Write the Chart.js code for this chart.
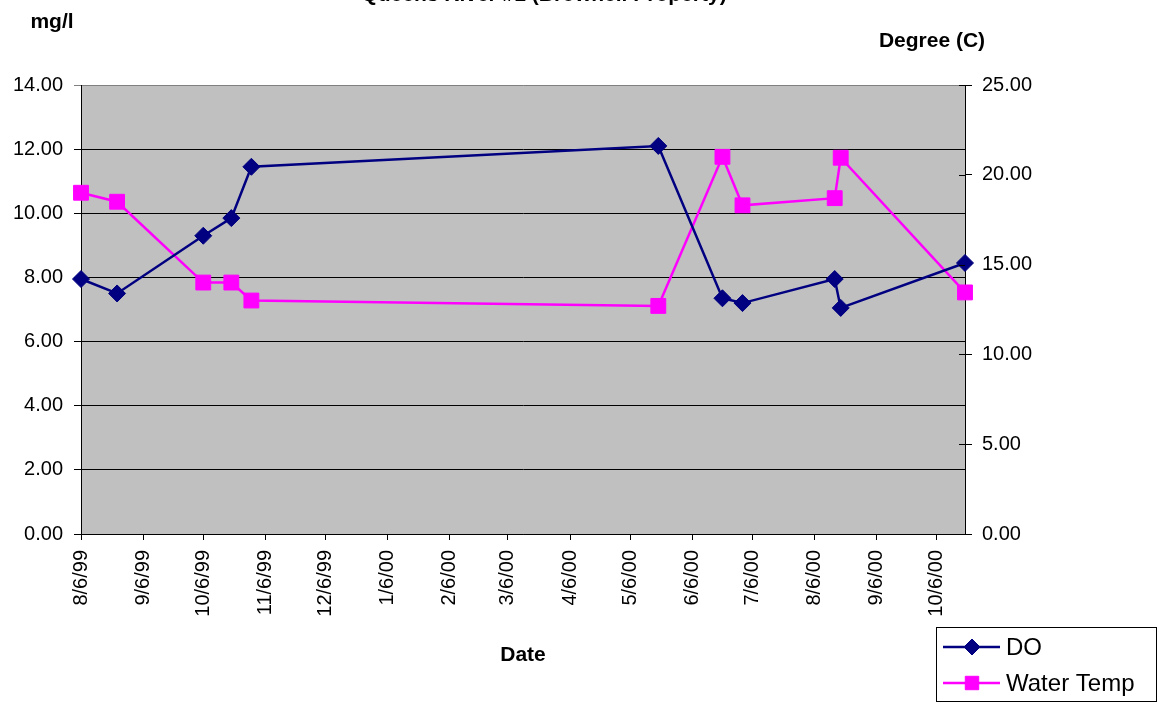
<!DOCTYPE html>
<html>
<head>
<meta charset="utf-8">
<script src="https://cdn.jsdelivr.net/npm/chart.js"></script>
<style>
  body { margin: 0; background: #fff; }
</style>
</head>
<body>
<canvas id="myChart" width="1165" height="707"></canvas>
<script>
// ******Datos: Queens River #1 (Brownell Property)******
var fechas = ['8/6/99', '8/24/99', '10/6/99', '10/20/99', '10/30/99', '5/20/00',
              '6/21/00', '7/1/00', '8/16/00', '8/19/00', '10/20/00'];
var oxigeno = [7.95, 7.50, 9.30, 9.85, 11.45, 12.10, 7.35, 7.20, 7.95, 7.05, 8.45];
var tempAgua = [19.0, 18.5, 14.0, 14.0, 13.0, 12.7, 21.0, 18.3, 18.7, 20.95, 13.45];
var etiquetasX = ['8/6/99', '9/6/99', '10/6/99', '11/6/99', '12/6/99', '1/6/00', '2/6/00',
                  '3/6/00', '4/6/00', '5/6/00', '6/6/00', '7/6/00', '8/6/00', '9/6/00', '10/6/00'];

// fecha m/d/yy -> dias
function dia(s) {
    var p = s.split('/').map(Number);
    var anio = p[2] > 50 ? 1900 + p[2] : 2000 + p[2];
    return Date.UTC(anio, p[0] - 1, p[1]) / 86400000;
}

var diasX = etiquetasX.map(dia);
var puntosDO = fechas.map(function(f, i) { return {x: dia(f), y: oxigeno[i]}; });
var puntosT = fechas.map(function(f, i) { return {x: dia(f), y: tempAgua[i]}; });

Chart.defaults.font.family = "'Liberation Sans', Arial, sans-serif";
Chart.defaults.color = '#000';

/******Fondo, títulos y leyenda******/
var extras = {
    id: 'extras',
    beforeDraw: function(chart) {
        var a = chart.chartArea, ctx = chart.ctx;
        ctx.save();
        ctx.fillStyle = '#C0C0C0';
        ctx.fillRect(a.left, a.top, a.right - a.left, a.bottom - a.top);
        ctx.restore();
    },
    afterDraw: function(chart) {
        var ctx = chart.ctx, a = chart.chartArea;
        var y1 = chart.scales.y1;
        ctx.save();
        // ticks interiores eje derecho
        ctx.strokeStyle = '#000';
        ctx.lineWidth = 1;
        for (var v = 0; v <= 25; v += 5) {
            var py = Math.round(y1.getPixelForValue(v)) + 0.5;
            ctx.beginPath();
            ctx.moveTo(a.right - 6, py);
            ctx.lineTo(a.right, py);
            ctx.stroke();
        }
        // titulos
        ctx.fillStyle = '#000';
        ctx.font = "bold 21px 'Liberation Sans', Arial, sans-serif";
        ctx.textAlign = 'center';
        ctx.textBaseline = 'alphabetic';
        ctx.fillText('Queens River #1 (Brownell Property)', 544, 1);
        ctx.textBaseline = 'middle';
        ctx.fillText('mg/l', 52, 22);
        ctx.fillText('Degree (C)', 932, 41);
        ctx.fillText('Date', 523, 655);
        // leyenda
        ctx.fillStyle = '#fff';
        ctx.fillRect(936.5, 627.5, 220, 74);
        ctx.strokeStyle = '#000';
        ctx.strokeRect(936.5, 627.5, 220, 74);
        var filas = [{ds: 0, y: 647, r: 8}, {ds: 1, y: 683, r: 9.5}];
        filas.forEach(function(f) {
            var d = chart.data.datasets[f.ds];
            ctx.strokeStyle = d.borderColor;
            ctx.fillStyle = d.backgroundColor;
            ctx.lineWidth = 2.5;
            ctx.beginPath();
            ctx.moveTo(943, f.y);
            ctx.lineTo(1000, f.y);
            ctx.stroke();
            ctx.lineWidth = 1;
            Chart.helpers.drawPoint(ctx, {pointStyle: d.pointStyle, radius: f.r, rotation: 0, borderWidth: 1}, 972, f.y);
            ctx.fillStyle = '#000';
            ctx.font = "24px 'Liberation Sans', Arial, sans-serif";
            ctx.textAlign = 'left';
            ctx.fillText(d.label, 1006, f.y + 1);
        });
        ctx.restore();
    }
};

var ctx = document.getElementById('myChart').getContext('2d');
var myChart = new Chart(ctx, {
    type: 'line',
    data: {
        datasets: [{
            label: 'DO',
            data: puntosDO,
            yAxisID: 'y',
            borderColor: '#000080',
            backgroundColor: '#000080',
            borderWidth: 2.5,
            pointStyle: 'rectRot',
            pointRadius: 8.5,
            pointBorderWidth: 1,
            tension: 0,
            clip: false
        },
        {
            label: 'Water Temp',
            data: puntosT,
            yAxisID: 'y1',
            borderColor: '#FF00FF',
            backgroundColor: '#FF00FF',
            borderWidth: 2.5,
            pointStyle: 'rect',
            pointRadius: 10.5,
            pointBorderWidth: 1,
            tension: 0,
            clip: false
        }]
    },
    options: {
        responsive: false,
        animation: false,
        layout: { padding: { top: 85, left: 0, right: 0, bottom: 0 } },
        plugins: {
            legend: { display: false },
            tooltip: { enabled: false }
        },
        scales: {
            x: {
                type: 'linear',
                min: dia(fechas[0]),
                max: dia(fechas[fechas.length - 1]),
                afterBuildTicks: function(s) {
                    s.ticks = diasX.map(function(v) { return {value: v}; });
                },
                afterFit: function(s) { s.height = 173; },
                ticks: {
                    autoSkip: false,
                    minRotation: 90,
                    maxRotation: 90,
                    padding: 10,
                    font: { size: 20 },
                    callback: function(v, i) { return etiquetasX[i]; }
                },
                grid: { drawOnChartArea: false, tickLength: 6, color: '#000' },
                border: { color: '#000', width: 1 }
            },
            y: {
                position: 'left',
                min: 0,
                max: 14,
                afterFit: function(s) { s.width = 81; },
                ticks: {
                    stepSize: 2,
                    padding: 11,
                    font: { size: 20 },
                    callback: function(v) { return v.toFixed(2); }
                },
                grid: {
                    tickLength: 7,
                    color: function(c) { return c.tick && c.tick.value === 14 ? '#808080' : '#000'; }
                },
                border: { color: '#000', width: 1 }
            },
            y1: {
                position: 'right',
                min: 0,
                max: 25,
                afterFit: function(s) { s.width = 200; },
                ticks: {
                    stepSize: 5,
                    padding: 10,
                    font: { size: 20 },
                    callback: function(v) { return v.toFixed(2); }
                },
                grid: { drawOnChartArea: false, tickLength: 7, color: '#000' },
                border: { color: '#000', width: 1 }
            }
        }
    },
    plugins: [extras]
});
</script>
</body>
</html>
